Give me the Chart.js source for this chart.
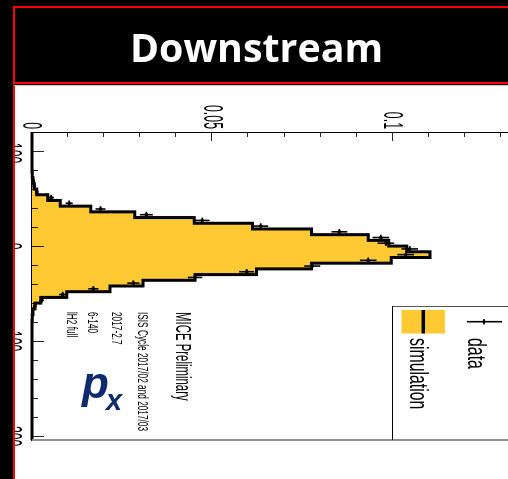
<!DOCTYPE html>
<html>
<head>
<meta charset="utf-8">
<script src="https://cdn.jsdelivr.net/npm/chart.js@4/dist/chart.umd.min.js"></script>
<style>
  html, body { margin: 0; padding: 0; overflow: hidden; background: #000; }
  #page { position: relative; width: 508px; height: 479px; overflow: hidden; background: #000; }
  #hdr { position: absolute; left: 13px; top: 6px; width: 600px; height: 74px; border: 2px solid #ff0000; background: #000; }
  #panel { position: absolute; left: 13px; top: 85px; width: 600px; height: 460px; background: #fff;
           border-left: 2px solid #ff0000; border-top: 1px solid #f6b3b3; }
  /* the plot is drawn upright and turned a quarter turn clockwise */
  #rot { position: absolute; left: 525px; top: 86px; width: 400px; height: 510px;
         transform-origin: 0 0; transform: rotate(90deg); }
  #rot canvas { display: block; }
  #overlay { position: absolute; left: 0; top: 0; pointer-events: none; }
</style>
</head>
<body>
<div id="page">
<div id="hdr"></div>
<div id="panel"></div>
<div id="rot"><canvas id="c" width="400" height="510"></canvas></div>
<svg id="overlay" width="508" height="479" xmlns="http://www.w3.org/2000/svg">
  <text x="130" y="62" fill="#fff" font-family="'Open Sans', Lato, sans-serif" font-weight="700" font-size="40" textLength="253" lengthAdjust="spacingAndGlyphs">Downstream</text>
  <text x="82" y="398" fill="#0f2a6e" font-family="'Liberation Sans', Arial, sans-serif" font-weight="700" font-style="italic" font-size="44">p</text>
  <text x="106" y="410" fill="#0f2a6e" font-family="'Liberation Sans', Arial, sans-serif" font-weight="700" font-style="italic" font-size="29">x</text>
</svg>
</div>
<script>
// Histogram binning: lower bin edges (p_x, MeV/c) and the upper edge of the last bin
const BIN_LOW = [-120,-114,-108,-102,-96,-90,-84,-78,-72,-66,-60,-54,-48,-42,-36,-30,-24,-18,-12,-6,
                 0,6,12,18,24,30,36,42,48,54,60,66,72,78,84,90,96,102,108,114,120,126,132,138,144,150,
                 156,162,168,174,180,186,192,198];
const BIN_END = 204;

// Simulation: fraction of events per bin
const SIM_FRAC = [0,0,0,0,0,0,0,0.0001,0.0003,0.0006,0.0013,0.0044,0.0078,0.0163,0.0285,0.0450,0.0611,0.0775,
                  0.0932,0.0989,0.1039,0.1103,0.0996,0.0775,0.0622,0.0452,0.0308,0.0216,0.0096,0.0024,0.0008,
                  0.0003,0.0001,0,0,0,0,0,0,0,0,0,0,0,0,0,0,0,0,0,0,0,0,0];

// Data: bin centres, fractions and their uncertainties
const DATA_CENTER = [-69,-63,-57,-51,-45,-39,-33,-27,-21,-15,-9,-3,3,9,15,21,27,33,39,45,51,57,63];
const DATA_FRAC = [0.0003,0.0006,0.0013,0.0053,0.0103,0.0190,0.0317,0.0472,0.0634,0.0852,0.0967,0.0981,
                   0.1047,0.1036,0.0932,0.0777,0.0595,0.0452,0.0281,0.0170,0.0085,0.0027,0.0008];
const DATA_ERR = [0.0003,0.0004,0.0005,0.0008,0.0010,0.0014,0.0018,0.0020,0.0021,0.0022,0.0023,0.0023,
                  0.0023,0.0023,0.0023,0.0022,0.0021,0.0020,0.0017,0.0014,0.0010,0.0006,0.0004];
const HALF_BIN = 3;

// Axis ticks and labels
const X_RANGE = [-120, 204];
const Y_RANGE = [0, 0.135];
const X_MAJOR = [-100, 0, 100, 200];
const X_MAJOR_LABELS = ['-100', '0', '100', '200'];
const X_MINOR = [-120,-80,-60,-40,-20,20,40,60,80,120,140,160,180];
const Y_MAJOR = [0, 0.05, 0.1];
const Y_MAJOR_LABELS = ['0', '0.05', '0.1'];
const Y_MINOR = [0.01,0.02,0.03,0.04,0.06,0.07,0.08,0.09,0.11,0.12,0.13];

// Legend and notes
const LEGEND_DATA = 'data';
const LEGEND_SIM = 'simulation';
const NOTE_TITLE = 'MICE Preliminary';
const NOTE_LINES = ['ISIS Cycle 2017/02 and 2017/03', '2017-2.7', '6-140', 'lH2 full'];

const YELLOW = '#fec932';
const FONT = "'Liberation Sans', Arial, Helvetica, sans-serif";

const simPoints = BIN_LOW.map((x, i) => ({ x: x, y: SIM_FRAC[i] }));
simPoints.push({ x: BIN_END, y: 0 });
const dataPoints = DATA_CENTER.map((x, i) => ({ x: x, y: DATA_FRAC[i] }));

// Narrow text: drawn with a horizontal squeeze, like the original plot's lettering
function narrowText(ctx, str, x, y, size, sx, align, baseline) {
  ctx.save();
  ctx.translate(x, y);
  ctx.scale(sx, 1);
  ctx.font = size + 'px ' + FONT;
  ctx.textAlign = align || 'left';
  ctx.textBaseline = baseline || 'alphabetic';
  ctx.fillStyle = '#000';
  ctx.fillText(str, 0, 0);
  ctx.restore();
}

function line(ctx, x1, y1, x2, y2) {
  ctx.beginPath(); ctx.moveTo(x1, y1); ctx.lineTo(x2, y2); ctx.stroke();
}

const decor = {
  id: 'decor',
  afterDatasetsDraw(chart) {
    const { ctx, chartArea: a, scales: { x, y } } = chart;
    ctx.save();

    // data error bars
    ctx.strokeStyle = '#000';
    ctx.lineWidth = 1.6;
    DATA_CENTER.forEach((c, i) => {
      const px = x.getPixelForValue(c);
      const py = y.getPixelForValue(DATA_FRAC[i]);
      line(ctx, px, y.getPixelForValue(DATA_FRAC[i] - DATA_ERR[i]), px, y.getPixelForValue(DATA_FRAC[i] + DATA_ERR[i]));
      line(ctx, x.getPixelForValue(c - HALF_BIN), py, x.getPixelForValue(c + HALF_BIN), py);
    });

    // frame
    ctx.lineWidth = 2;
    ctx.strokeStyle = '#8f8f8f';
    line(ctx, a.right, a.top, a.right, a.bottom);
    line(ctx, a.left, a.top, a.right, a.top);
    ctx.lineWidth = 1;
    ctx.strokeStyle = '#000';
    line(ctx, a.left + 0.5, a.top, a.left + 0.5, a.bottom);

    // inward ticks
    ctx.strokeStyle = 'rgba(0,0,0,0.85)';
    ctx.lineWidth = 1;
    X_MAJOR.forEach(v => { const p = Math.round(x.getPixelForValue(v)) + 0.5; line(ctx, p, a.bottom, p, a.bottom - 12); });
    X_MINOR.forEach(v => { const p = Math.round(x.getPixelForValue(v)) + 0.5; line(ctx, p, a.bottom, p, a.bottom - 6); });
    Y_MAJOR.forEach(v => { const p = Math.round(y.getPixelForValue(v)) + 0.5; line(ctx, a.left, p, a.left + 9, p); });
    Y_MINOR.forEach(v => { const p = Math.round(y.getPixelForValue(v)) + 0.5; line(ctx, a.left, p, a.left + 5, p); });

    // tick labels
    Y_MAJOR.forEach((v, i) => narrowText(ctx, Y_MAJOR_LABELS[i], a.left - 3, y.getPixelForValue(v) + 1, 28, 0.44, 'right', 'middle'));
    X_MAJOR.forEach((v, i) => narrowText(ctx, X_MAJOR_LABELS[i], x.getPixelForValue(v), a.bottom + 29, 28, 0.44, 'center', 'alphabetic'));

    // legend box
    const lx = 220, ly = 132;
    ctx.lineWidth = 1;
    ctx.strokeStyle = '#555';
    line(ctx, lx + 0.5, a.top - 4, lx + 0.5, ly);
    ctx.strokeStyle = '#000';
    line(ctx, lx, ly + 0.5, a.right, ly + 0.5);

    // legend: data
    ctx.lineWidth = 1.6;
    line(ctx, 235.7, 23, 235.7, 58);
    line(ctx, 233, 41, 238.5, 41);
    ctx.beginPath(); ctx.arc(235.7, 41, 1.6, 0, Math.PI * 2); ctx.fillStyle = '#000'; ctx.fill();
    narrowText(ctx, LEGEND_DATA, 252, 57, 26, 0.61);

    // legend: simulation
    ctx.fillStyle = YELLOW;
    ctx.fillRect(224, 80, 23.5, 43.5);
    ctx.lineWidth = 3.5;
    ctx.strokeStyle = '#000';
    line(ctx, 224, 101.7, 247.5, 101.7);
    narrowText(ctx, LEGEND_SIM, 252, 115, 26, 0.61);

    // notes
    narrowText(ctx, NOTE_TITLE, 226, 348.5, 21.5, 0.53);
    const baselines = [387, 413, 437, 458];
    NOTE_LINES.forEach((t, i) => narrowText(ctx, t, 226, baselines[i], 14.5, 0.57));

    ctx.restore();
  }
};

new Chart(document.getElementById('c'), {
  type: 'line',
  data: {
    datasets: [
      {
        type: 'scatter',
        label: LEGEND_DATA,
        data: dataPoints,
        pointRadius: 1.8,
        pointBackgroundColor: '#000',
        pointBorderColor: '#000',
        pointBorderWidth: 0,
        order: 0
      },
      {
        type: 'line',
        label: LEGEND_SIM,
        data: simPoints,
        stepped: true,
        fill: 'origin',
        backgroundColor: YELLOW,
        borderColor: '#000',
        borderWidth: 3,
        pointRadius: 0,
        clip: 4,
        order: 1
      }
    ]
  },
  options: {
    responsive: false,
    animation: false,
    devicePixelRatio: 1,
    layout: { padding: { top: 6, right: 46, left: 0, bottom: 0 } },
    plugins: { legend: { display: false }, tooltip: { enabled: false } },
    scales: {
      x: {
        type: 'linear', min: X_RANGE[0], max: X_RANGE[1],
        grid: { display: false },
        border: { display: true, color: '#000', width: 1 },
        ticks: { display: false },
        afterFit(s) { s.height = 17; }
      },
      y: {
        type: 'linear', min: Y_RANGE[0], max: Y_RANGE[1],
        grid: { display: false },
        border: { display: true, color: '#000', width: 1 },
        ticks: { display: false },
        afterFit(s) { s.width = 46; }
      }
    }
  },
  plugins: [decor]
});
</script>
</body>
</html>
